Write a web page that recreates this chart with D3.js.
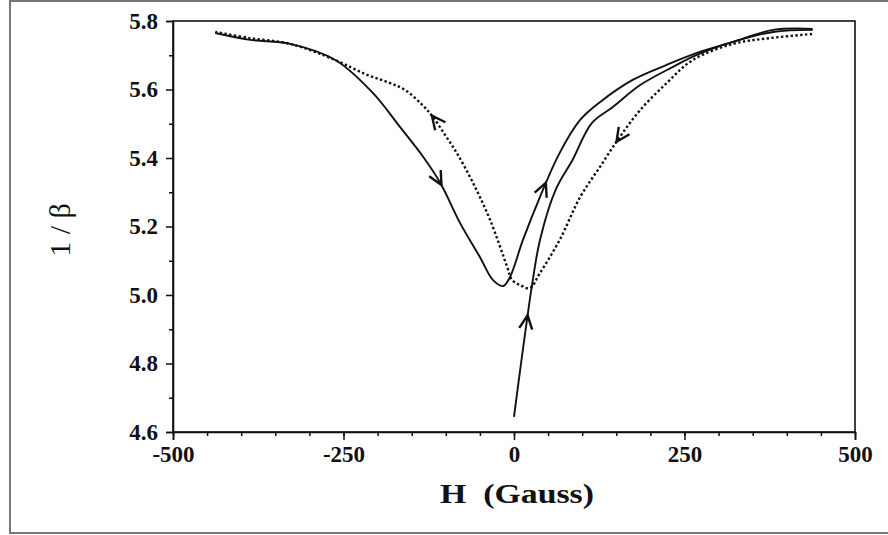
<!DOCTYPE html>
<html>
<head>
<meta charset="utf-8">
<script src="https://cdn.jsdelivr.net/npm/d3@7/dist/d3.min.js"></script>
<style>
  body { margin: 0; background: #fff; }
  text { font-family: "Liberation Serif", "Times New Roman", serif; fill: #111; }
</style>
</head>
<body>
<svg id="chart" width="888" height="535"></svg>
<script>
// tick values
const xTicks = [ -500, -250, 0, 250, 500 ];
const yTicks = [ 4.6, 4.8, 5.0, 5.2, 5.4, 5.6, 5.8 ];

// virgin curve, H rising from 0 (solid)
const virgin = [
    [ 0, 4.644 ], [ 9, 4.781 ], [ 21, 4.956 ], [ 26, 5.023 ], [ 38, 5.160 ],
    [ 61, 5.307 ], [ 86, 5.395 ], [ 114, 5.502 ], [ 145, 5.549 ], [ 185, 5.613 ],
    [ 233, 5.666 ], [ 268, 5.701 ], [ 321, 5.739 ], [ 380, 5.768 ], [ 438, 5.774 ]
];

// H decreasing from +max to -max (dotted)
const descending = [
    [ 437, 5.762 ], [ 375, 5.750 ], [ 321, 5.733 ], [ 262, 5.686 ], [ 224, 5.619 ],
    [ 185, 5.540 ], [ 155, 5.461 ], [ 126, 5.374 ], [ 97, 5.286 ], [ 67, 5.161 ],
    [ 38, 5.064 ], [ 23, 5.020 ], [ 9, 5.029 ], [ -3, 5.044 ], [ -10, 5.082 ],
    [ -35, 5.219 ], [ -60, 5.327 ], [ -84, 5.415 ], [ -101, 5.467 ], [ -119, 5.520 ],
    [ -135, 5.556 ], [ -160, 5.599 ], [ -186, 5.622 ], [ -218, 5.645 ], [ -262, 5.686 ],
    [ -328, 5.733 ], [ -387, 5.750 ], [ -438, 5.768 ]
];

// H increasing from -max to +max (solid)
const ascending = [
    [ -438, 5.765 ], [ -387, 5.745 ], [ -328, 5.733 ], [ -262, 5.686 ], [ -207, 5.590 ],
    [ -167, 5.490 ], [ -133, 5.403 ], [ -108, 5.327 ], [ -79, 5.210 ], [ -50, 5.111 ],
    [ -31, 5.044 ], [ -16, 5.026 ], [ -6, 5.052 ], [ 13, 5.160 ], [ 38, 5.286 ],
    [ 67, 5.415 ], [ 97, 5.511 ], [ 126, 5.563 ], [ 174, 5.628 ], [ 224, 5.672 ],
    [ 268, 5.707 ], [ 321, 5.739 ], [ 380, 5.774 ], [ 438, 5.777 ]
];

// where the direction arrows sit on each branch
const arrowsVirgin = [ [ 20, 4.94 ] ];
const arrowsDescending = [ [ 151, 5.447 ], [ -123, 5.52 ] ];
const arrowsAscending = [ [ 47, 5.327 ], [ -108, 5.32 ] ];

const svg = d3.select( "#chart" );
const margin = { left: 173, right: 33, top: 21, bottom: 103 };
const width = 888 - margin.left - margin.right;
const height = 535 - margin.top - margin.bottom;

// outer frame of the figure
svg.append( "rect" )
    .attr( "x", 10 ).attr( "y", 1 )
    .attr( "width", 900 ).attr( "height", 532 )
    .attr( "fill", "none" )
    .attr( "stroke", "#777" )
    .attr( "stroke-width", 2 );

const g = svg.append( "g" ).attr( "transform", `translate(${margin.left},${margin.top})` );

const x = d3.scaleLinear().domain( [ -500, 500 ] ).range( [ 0, width ] );
const y = d3.scaleLinear().domain( [ 4.6, 5.8 ] ).range( [ height, 0 ] );

// plot box
g.append( "rect" )
    .attr( "width", width ).attr( "height", height )
    .attr( "fill", "none" )
    .attr( "stroke", "#111" )
    .attr( "stroke-width", 1.6 );

// minor ticks
g.append( "g" )
    .attr( "transform", `translate(0,${height})` )
    .call( d3.axisBottom( x ).ticks( 20 ).tickSize( 4 ).tickFormat( "" ) )
    .call( a => a.select( ".domain" ).remove() );
g.append( "g" )
    .call( d3.axisLeft( y ).tickValues( d3.range( 4.7, 5.8, 0.2 ) ).tickSize( 4 ).tickFormat( "" ) )
    .call( a => a.select( ".domain" ).remove() );

// major ticks + labels
const xAxis = g.append( "g" )
    .attr( "transform", `translate(0,${height})` )
    .call( d3.axisBottom( x ).tickValues( xTicks ).tickSize( 8 ).tickPadding( 6 ).tickFormat( d => String( d ) ) );
const yAxis = g.append( "g" )
    .call( d3.axisLeft( y ).tickValues( yTicks ).tickSize( 7 ).tickPadding( 8 ).tickFormat( d => d.toFixed( 1 ) ) );

[ xAxis, yAxis ].forEach( a => {
    a.select( ".domain" ).attr( "stroke", "#111" ).attr( "stroke-width", 1.6 );
    a.selectAll( "text" )
        .style( "font-family", "'Liberation Serif', serif" )
        .style( "font-size", "23px" )
        .style( "font-weight", "bold" )
        .attr( "fill", "#111" );
} );
g.selectAll( ".tick line" ).attr( "stroke", "#111" ).attr( "stroke-width", 1.5 );

// axis titles
svg.append( "text" )
    .attr( "x", 440 ).attr( "y", 503 )
    .attr( "textLength", 154 )
    .attr( "lengthAdjust", "spacingAndGlyphs" )
    .style( "font-size", "28px" )
    .style( "font-weight", "bold" )
    .style( "white-space", "pre" )
    .text( "H  (Gauss)" );

svg.append( "text" )
    .attr( "transform", "translate(70,230) rotate(-90)" )
    .attr( "text-anchor", "middle" )
    .style( "font-size", "30px" )
    .text( "1 / β" );

const line = d3.line()
    .x( d => x( d[ 0 ] ) )
    .y( d => y( d[ 1 ] ) )
    .curve( d3.curveCatmullRom.alpha( 0.5 ) );

const drawBranch = ( data, dashed, arrows ) => {
    const path = g.append( "path" )
        .datum( data )
        .attr( "d", line )
        .attr( "fill", "none" )
        .attr( "stroke", "#111" )
        .attr( "stroke-width", dashed ? 2.4 : 1.9 )
        .attr( "stroke-dasharray", dashed ? "2.4,2.4" : null );

    const node = path.node();
    const total = node.getTotalLength();

    arrows.forEach( a => {
        const tx = x( a[ 0 ] ), ty = y( a[ 1 ] );
        let best = 0, bestD = Infinity;
        for ( let l = 0; l <= total; l += 0.5 ) {
            const p = node.getPointAtLength( l );
            const dd = ( p.x - tx ) ** 2 + ( p.y - ty ) ** 2;
            if ( dd < bestD ) { bestD = dd; best = l; }
        }
        const p0 = node.getPointAtLength( Math.max( 0, best - 3 ) );
        const p1 = node.getPointAtLength( Math.min( total, best + 3 ) );
        const tip = node.getPointAtLength( best );
        const ang = Math.atan2( p1.y - p0.y, p1.x - p0.x );
        const len = 15, spread = 0.45;
        const wing = s => [ tip.x - len * Math.cos( ang + s ), tip.y - len * Math.sin( ang + s ) ];
        const w1 = wing( spread ), w2 = wing( -spread );
        g.append( "path" )
            .attr( "d", `M${w1[ 0 ]},${w1[ 1 ]}L${tip.x},${tip.y}L${w2[ 0 ]},${w2[ 1 ]}` )
            .attr( "fill", "none" )
            .attr( "stroke", "#111" )
            .attr( "stroke-width", 2.4 )
            .attr( "stroke-linejoin", "miter" );
    } );
};

drawBranch( virgin, false, arrowsVirgin );
drawBranch( descending, true, arrowsDescending );
drawBranch( ascending, false, arrowsAscending );
</script>
</body>
</html>
